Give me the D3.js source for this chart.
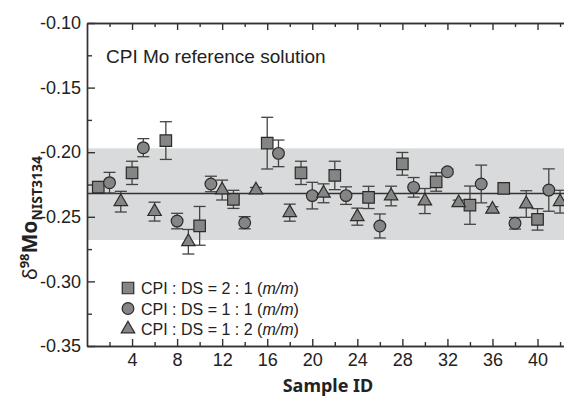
<!DOCTYPE html>
<html>
<head>
<meta charset="utf-8">
<script src="https://cdn.jsdelivr.net/npm/d3@7"></script>
<style>
  body { margin: 0; background: #fff; }
  svg { display: block; font-family: "Liberation Sans", Arial, sans-serif; }
</style>
</head>
<body>
<svg id="chart" width="564" height="397"></svg>
<script>
// Data (delta 98 Mo, per mil)
const squareIds = [1, 4, 7, 10, 13, 16, 19, 22, 25, 28, 31, 34, 37, 40];
const squareVals = [-0.227, -0.216, -0.191, -0.257, -0.2365, -0.193, -0.216, -0.218, -0.235, -0.209, -0.223, -0.241, -0.228, -0.252];
const squareErr = [0.002, 0.009, 0.0146, 0.015, 0.007, 0.02, 0.009, 0.011, 0.0086, 0.0088, 0.0072, 0.0148, 0.001, 0.0083];

const circleIds = [2, 5, 8, 11, 14, 17, 20, 23, 26, 29, 32, 35, 38, 41];
const circleVals = [-0.2236, -0.1965, -0.2533, -0.2246, -0.2546, -0.2009, -0.2336, -0.2336, -0.2571, -0.2272, -0.2151, -0.2246, -0.255, -0.2293];
const circleErr = [0.008, 0.007, 0.006, 0.006, 0.0047, 0.0103, 0.0103, 0.0068, 0.0093, 0.0076, 0.002, 0.0146, 0.0045, 0.0164];

const triangleIds = [3, 6, 9, 12, 15, 18, 21, 24, 27, 30, 33, 36, 39, 42];
const triangleVals = [-0.2383, -0.246, -0.2693, -0.2293, -0.2293, -0.2468, -0.2318, -0.2499, -0.2339, -0.2378, -0.2391, -0.2442, -0.2401, -0.2383];
const triangleErr = [0.008, 0.0073, 0.0095, 0.0077, 0.002, 0.0066, 0.0073, 0.0066, 0.0076, 0.0097, 0.002, 0.002, 0.0103, 0.0088];

// long-term mean and 2SD band
const meanValue = -0.232;
const bandRange = [-0.268, -0.197];

const yMajorTicks = [-0.35, -0.30, -0.25, -0.20, -0.15, -0.10];
const yMinorTicks = [-0.325, -0.275, -0.225, -0.175, -0.125];
const xMajorTicks = [4, 8, 12, 16, 20, 24, 28, 32, 36, 40];
const xMinorTicks = [2, 6, 10, 14, 18, 22, 26, 30, 34, 38, 42];

const legendLabels = ["CPI : DS = 2 : 1 (", "CPI : DS = 1 : 1 (", "CPI : DS = 1 : 2 ("];

const svg = d3.select('#chart');
const plotLeft = 87, plotRight = 564, plotTop = 23, plotBottom = 346;

const x = d3.scaleLinear().domain([0, 42.35]).range([plotLeft, plotRight]);
const y = d3.scaleLinear().domain([-0.35, -0.10]).range([plotBottom, plotTop]);

const axisColor = '#333';
const markFill = '#858585';
const markStroke = '#2b2b2b';

// grey band and mean line
svg.append('rect')
    .attr('x', plotLeft)
    .attr('y', y(bandRange[1]))
    .attr('width', plotRight - plotLeft)
    .attr('height', y(bandRange[0]) - y(bandRange[1]))
    .attr('fill', '#d9dadb');

svg.append('line')
    .attr('x1', plotLeft).attr('x2', plotRight)
    .attr('y1', y(meanValue)).attr('y2', y(meanValue))
    .attr('stroke', '#333')
    .attr('stroke-width', 1.4);

// build one list per series
const series = [
    { shape: d3.symbolSquare, size: 132, ids: squareIds, vals: squareVals, errs: squareErr },
    { shape: d3.symbolCircle, size: 108, ids: circleIds, vals: circleVals, errs: circleErr },
    { shape: d3.symbolTriangle, size: 78, ids: triangleIds, vals: triangleVals, errs: triangleErr }
];

series.forEach(s => {
    const pts = s.ids.map((id, i) => ({ id: id, v: s.vals[i], e: s.errs[i] }));

    // error bars
    const eb = svg.append('g')
        .attr('stroke', '#444')
        .attr('stroke-width', 1.3)
        .selectAll('g')
        .data(pts)
        .join('g');

    eb.append('line')
        .attr('x1', d => x(d.id)).attr('x2', d => x(d.id))
        .attr('y1', d => y(d.v + d.e)).attr('y2', d => y(d.v - d.e));
    eb.append('line')
        .attr('x1', d => x(d.id) - 6).attr('x2', d => x(d.id) + 6)
        .attr('y1', d => y(d.v + d.e)).attr('y2', d => y(d.v + d.e));
    eb.append('line')
        .attr('x1', d => x(d.id) - 6).attr('x2', d => x(d.id) + 6)
        .attr('y1', d => y(d.v - d.e)).attr('y2', d => y(d.v - d.e));

    s.pts = pts;
});

series.forEach(s => {
    svg.append('g')
        .selectAll('path')
        .data(s.pts)
        .join('path')
        .attr('d', d3.symbol().type(s.shape).size(s.size))
        .attr('transform', d => `translate(${x(d.id)},${y(d.v)})`)
        .attr('fill', markFill)
        .attr('stroke', markStroke)
        .attr('stroke-width', 1.2);
});

// axes, ticks pointing inwards
function styleAxis(g) {
    g.selectAll('path, line').attr('stroke', axisColor).attr('stroke-width', 1.4);
    g.selectAll('text').attr('fill', '#222').attr('font-size', 18)
        .attr('font-family', '"Liberation Sans", Arial, sans-serif');
}

svg.append('g')
    .attr('transform', `translate(${plotLeft},0)`)
    .call(d3.axisLeft(y).tickValues(yMajorTicks).tickSize(-8).tickSizeOuter(0).tickPadding(6)
        .tickFormat(d => d.toFixed(2)))
    .call(styleAxis);
svg.append('g')
    .attr('transform', `translate(${plotLeft},0)`)
    .call(d3.axisLeft(y).tickValues(yMinorTicks).tickSize(-5).tickSizeOuter(0).tickFormat(''))
    .call(styleAxis);

svg.append('g')
    .attr('transform', `translate(0,${plotBottom})`)
    .call(d3.axisBottom(x).tickValues(xMajorTicks).tickSize(-7).tickSizeOuter(0).tickPadding(7))
    .call(styleAxis);
svg.append('g')
    .attr('transform', `translate(0,${plotBottom})`)
    .call(d3.axisBottom(x).tickValues(xMinorTicks).tickSize(-4).tickSizeOuter(0).tickFormat(''))
    .call(styleAxis);

svg.append('g')
    .attr('transform', `translate(0,${plotTop})`)
    .call(d3.axisTop(x).tickValues(xMajorTicks).tickSize(-7).tickSizeOuter(0).tickFormat(''))
    .call(styleAxis);
svg.append('g')
    .attr('transform', `translate(0,${plotTop})`)
    .call(d3.axisTop(x).tickValues(xMinorTicks).tickSize(-4).tickSizeOuter(0).tickFormat(''))
    .call(styleAxis);

// inside title
svg.append('text')
    .attr('x', 106).attr('y', 63)
    .attr('font-size', 19)
    .attr('fill', '#222')
    .text('CPI Mo reference solution');

// legend
const legend = svg.append('g');
legendLabels.forEach((lab, i) => {
    const ly = 288 + i * 20.5;
    legend.append('path')
        .attr('d', d3.symbol().type(series[i].shape).size(series[i].size)())
        .attr('transform', `translate(128,${ly})`)
        .attr('fill', markFill)
        .attr('stroke', markStroke)
        .attr('stroke-width', 1.2);
    const t = legend.append('text')
        .attr('x', 141).attr('y', ly + 6)
        .attr('font-size', 16)
        .attr('fill', '#222');
    t.append('tspan').text(lab);
    t.append('tspan').attr('font-style', 'italic').text('m/m');
    t.append('tspan').text(')');
});

// axis titles
svg.append('text')
    .attr('x', 328).attr('y', 392)
    .attr('text-anchor', 'middle')
    .attr('font-family', '"Noto Sans", sans-serif')
    .attr('font-weight', 'bold')
    .attr('font-size', 18)
    .attr('fill', '#222')
    .text('Sample ID');

const yt = svg.append('text')
    .attr('transform', 'translate(37,218) rotate(-90)')
    .attr('text-anchor', 'middle')
    .attr('font-family', '"Noto Sans", sans-serif')
    .attr('font-weight', 'bold')
    .attr('fill', '#222');
yt.append('tspan').attr('font-size', 20).attr('font-weight', 'normal').text('δ');
yt.append('tspan').attr('font-size', 13).attr('dy', -8).text('98');
yt.append('tspan').attr('font-size', 21).attr('dy', 8).text('Mo');
yt.append('tspan').attr('font-size', 14).attr('dy', 5).text('NIST3134');
</script>
</body>
</html>
